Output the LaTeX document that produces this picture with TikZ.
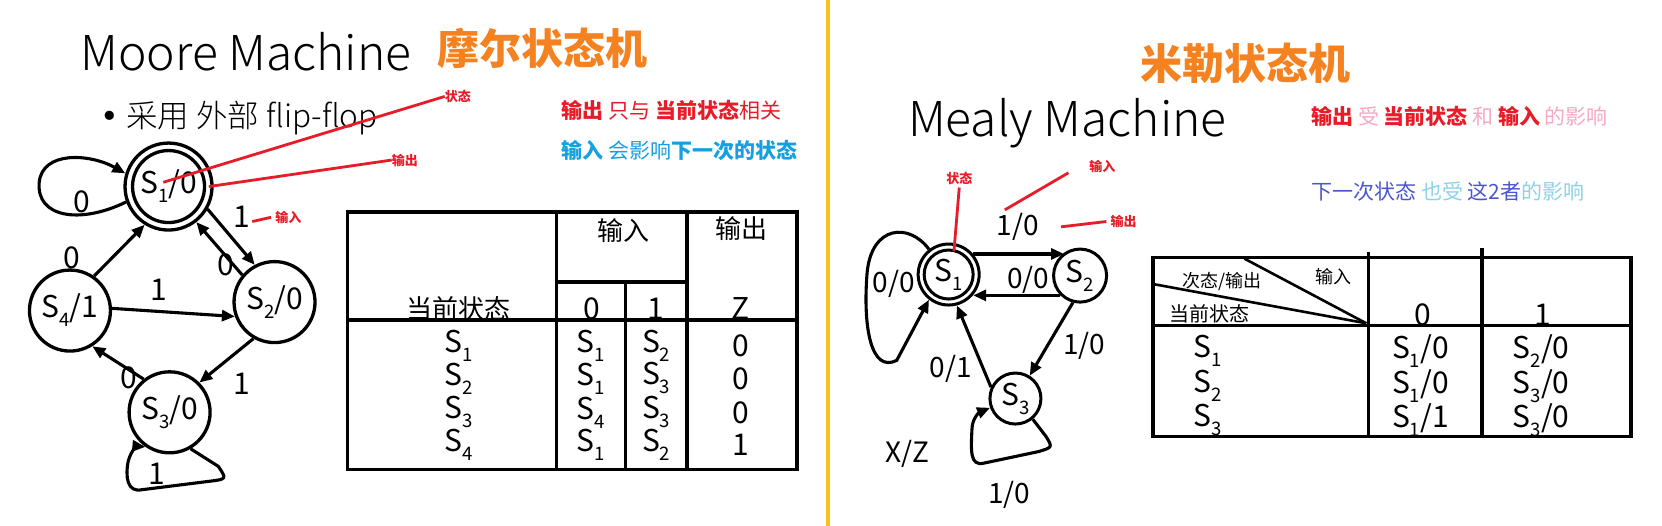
\documentclass[tikz,border=0pt]{standalone}
\usepackage{fontspec}
\setmainfont{Noto Sans CJK SC}
\newfontfamily\lightf{Noto Sans CJK SC Light}
\newfontfamily\dejavu{DejaVu Sans}
\usetikzlibrary{arrows.meta}
\definecolor{tOrange}{RGB}{245,130,32}
\definecolor{gold}{RGB}{247,195,26}
\definecolor{myRed}{RGB}{232,28,40}
\definecolor{myBlue}{RGB}{22,160,224}
\definecolor{myPink}{RGB}{247,168,196}
\definecolor{myViolet}{RGB}{74,85,208}
\definecolor{myCyan}{RGB}{141,211,232}
\newcommand\fs[1]{\fontsize{#1}{#1}\selectfont}
\newcommand\sbs[1]{\raisebox{-0.3em}{\scalebox{0.62}{#1}}}
\newcommand\St[1]{S\sbs{#1}}
\begin{document}
\begin{tikzpicture}[x=1.06pt,y=-1.06pt,
  state/.style={circle,draw,line width=3.3pt,inner sep=0pt,font=\fs{30pt}},
  rstate/.style={circle,draw,line width=3pt,inner sep=0pt,font=\fs{30pt}},
  edge/.style={line width=3.1pt,-{Triangle[length=13pt,width=11pt]}},
  redline/.style={draw=myRed,line width=2.8pt},
  lbl/.style={inner sep=0pt,font=\fs{30pt}},
  rlbl/.style={inner sep=0pt,font=\fs{28pt}},
  ann/.style={inner sep=0pt,text=myRed,font=\fs{13pt}\bfseries},
  tab/.style={line width=3.6pt},
  cell/.style={inner sep=0pt,font=\fs{30pt}},
  hcell/.style={inner sep=0pt,font=\fs{26pt}},
  title/.style={inner sep=0pt,font=\lightf\fs{48pt}},
  ctitle/.style={inner sep=0pt,text=tOrange,font=\fs{42pt}\bfseries},
  note/.style={inner sep=0pt,anchor=west,font=\fs{21pt}}]
\useasboundingbox (0,0) rectangle (1568,496);
\fill[white] (0,0) rectangle (1568,496);
\fill[gold] (779,0) rectangle (783,496);

% ---------------- Left: Moore ----------------
\node[title] (tmoore) at (232,49) {Moore Machine};
\node[ctitle] (cmoore) at (512,46) {摩尔状态机};
\node[inner sep=0pt,anchor=west,font=\lightf\fs{31.5pt}] (bul) at (95,111) {{\dejavu •} 采用 外部 flip-flop};
\node[note] (n1) at (530,104) {\color{myRed}\textbf{输出} 只与 \textbf{当前状态}相关};
\node[note] (n2) at (530,142) {\color{myBlue}\textbf{输入} 会影响\textbf{下一次的状态}};

\node[state,minimum size=87pt] (s1) at (159,176) {};
\node[state,minimum size=72pt] (s1i) at (s1) {\St1/0};
\node[state,minimum size=81pt] (s2) at (259,285) {\St2/0};
\node[state,minimum size=81pt] (s4) at (66,293) {\St4/1};
\node[state,minimum size=81pt] (s3) at (160,389) {\St3/0};

\draw[edge] (s1.200) .. controls (75,212) and (34,205) .. (37,172)
            .. controls (40,142) and (85,145) .. (s1.163);
\draw[edge] (s4.55) -- (s1.238);
\draw[edge] (s1.-30) -- (s2.118);
\draw[edge] (s2.140) -- (s1.-52);
\draw[edge] (s4.3) -- (s2.200);
\draw[edge] (s2.240) -- (s3.45);
\draw[edge] (s3.128) -- (s4.-58);
\draw[edge] (s3.-60) -- (206,440) .. controls (214,452) .. (198,454)
            -- (134,462) .. controls (120,465) and (118,450) .. (121,435)
            .. controls (124,424) and (130,421) .. (s3.235);

\node[lbl] (l1) at (77,190) {0};
\node[lbl] (l2) at (68,243) {0};
\node[lbl] (l3) at (228,205) {1};
\node[lbl] (l4) at (213,250) {0};
\node[lbl] (l5) at (150,273) {1};
\node[lbl] (l6) at (228,362) {1};
\node[lbl] (l7) at (122,356) {0};
\node[lbl] (l8) at (148,447) {1};

\node[ann] (a1) at (432,91) {状态};
\node[ann] (a2) at (382,151) {输出};
\node[ann] (a3) at (272,205) {输入};
\coordinate (p1) at (154,172);
\coordinate (p2) at (197,176);
\coordinate (p3) at (238,209);
\draw[redline] (p1) -- (a1.west);
\draw[redline] (p2) -- (a2.west);
\draw[redline] (p3) -- ([xshift=-4pt]a3.west);

% left table
\draw[tab] (328,200) rectangle (752,443);
\draw[tab] (525,200) -- (525,443);
\draw[tab] (648,200) -- (648,443);
\draw[tab] (328,302) -- (752,302);
\draw[tab] (525,266) -- (648,266);
\draw[tab] (590,266) -- (590,443);
\node[hcell] (h1) at (588,218) {输入};
\node[hcell] (h2) at (700,216) {输出};
\node[hcell] (h3) at (433,291) {当前状态};
\node[cell] (h4) at (558,291) {0};
\node[cell] (h5) at (619,291) {1};
\node[cell] (h6) at (699,291) {Z};
\foreach \y/\a/\b/\c/\d in {326/1/1/2/0, 357/2/1/3/0, 389/3/4/3/0, 420/4/1/2/1}{
  \node[cell] at (433,\y) {\St\a};
  \node[cell] at (557,\y) {\St\b};
  \node[cell] at (619,\y) {\St\c};
  \node[cell] at (699,\y) {\d};
}

% ---------------- Right: Mealy ----------------
\node[ctitle] (cmealy) at (1175,60) {米勒状态机};
\node[title] (tmealy) at (1007,116) {Mealy Machine};
\node[note] (n3) at (1237,110) {\textcolor{myRed}{\textbf{输出}} \textcolor{myPink}{受} \textcolor{myRed}{\textbf{当前状态}} \textcolor{myPink}{和} \textcolor{myRed}{\textbf{输入}} \textcolor{myPink}{的影响}};
\node[note] (n4) at (1237,181) {\textcolor{myViolet}{下一次状态} \textcolor{myCyan}{也受} \textcolor{myViolet}{这2者}\textcolor{myCyan}{的影响}};

\node[rstate,minimum size=61pt] (r1) at (895,259) {};
\node[rstate,minimum size=49pt] (r1i) at (r1) {\St1};
\node[rstate,minimum size=53pt] (r2) at (1019,260) {\St2};
\node[rstate,minimum size=51pt] (r3) at (958,376) {\St3};

\draw[edge] (r1.128) .. controls (858,210) and (822,212) .. (818,258)
            .. controls (814,310) and (822,352) .. (846,340) -- (r1.232);
\draw[edge] (r1.40) -- (r1.40 -| r2.125);
\draw[edge] (r2.225) -- (r2.225 -| r1.-40);
\draw[edge] (r2.255) -- (r3.58);
\draw[edge] (r3.155) -- (r1.-75);
\draw[edge] (r3.-50) -- (987,412) .. controls (993,422) .. (980,426)
            -- (928,437) .. controls (915,440) and (916,425) .. (917,405)
            .. controls (917,395) and (924,389) .. (r3.200);

\node[rlbl] (m1) at (960,214) {1/0};
\node[rlbl] (m2) at (970,264) {0/0};
\node[rlbl] (m3) at (843,268) {0/0};
\node[rlbl] (m4) at (1023,326) {1/0};
\node[rlbl] (m5) at (897,348) {0/1};
\node[rlbl] (m6) at (856,428) {X/Z};
\node[rlbl] (m7) at (952,467) {1/0};

\node[ann] (b1) at (905,168) {状态};
\node[ann] (b2) at (1040,157) {输入};
\node[ann] (b3) at (1060,209) {输出};
\coordinate (q1) at (900,237);
\coordinate (q2) at (948,198);
\coordinate (q3) at (1001,214);
\draw[redline] (q1) -- ([yshift=-3pt]b1.south);
\draw[redline] (q2) -- (1008,163);
\draw[redline] (q3) -- ([xshift=-4pt]b3.west);

% right table
\draw[tab] (1088,243) rectangle (1539,412);
\draw[tab] (1291,238) -- (1291,412);
\draw[tab] (1398,234) -- (1398,412);
\draw[tab] (1088,307) -- (1539,307);
\draw[line width=2.6pt] (1174,244) -- (1289,305);
\draw[line width=2.6pt] (1088,268) -- (1289,305);
\node[inner sep=0pt,font=\fs{18pt}] (k1) at (1258,261) {输入};
\node[inner sep=0pt,font=\fs{18pt}] (k2) at (1153,266) {次态/输出};
\node[inner sep=0pt,font=\fs{20pt}] (k3) at (1141,296) {当前状态};
\node[cell] (k4) at (1342,297) {0};
\node[cell] (k5) at (1456,297) {1};
\foreach \y/\a/\b/\c/\d/\e in {331/1/1/0/2/0, 364/2/1/0/3/0, 396/3/1/1/3/0}{
  \node[cell] at (1139,\y) {\St\a};
  \node[cell] at (1340,\y) {\St\b/\c};
  \node[cell] at (1454,\y) {\St\d/\e};
}
\end{tikzpicture}
\end{document}
